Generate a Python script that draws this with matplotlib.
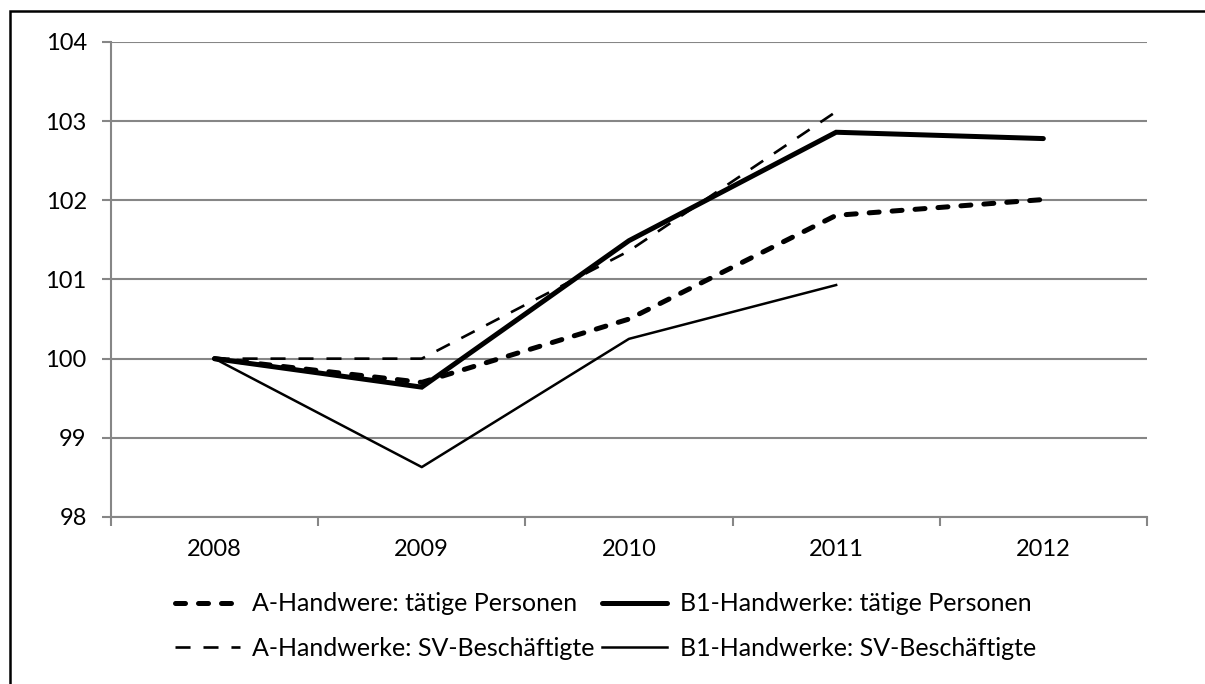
import matplotlib
matplotlib.use("Agg")
import matplotlib.pyplot as plt
from matplotlib.patches import Rectangle

plt.rcParams['font.family'] = ['Lato', 'DejaVu Sans']

years = ['2008', '2009', '2010', '2011', '2012']
a_taetige = [100.0, 99.70, 100.50, 101.81, 102.01]
b1_taetige = [100.0, 99.64, 101.49, 102.86, 102.78]
a_sv = [100.0, 100.0, 101.36, 103.12]
b1_sv = [100.0, 98.63, 100.25, 100.93]
y_ticks = [98, 99, 100, 101, 102, 103, 104]

labels = ['A-Handwere: tätige Personen', 'B1-Handwerke: tätige Personen',
          'A-Handwerke: SV-Beschäftigte', 'B1-Handwerke: SV-Beschäftigte']

fig = plt.figure(figsize=(12.05, 6.84), dpi=100)
ax = fig.add_axes([0.0921, 0.2442, 0.8597, 0.6944])

x_all = list(range(len(years)))
grey = '#868686'
fs = 17
legend_fs = 18

l1, = ax.plot(x_all, a_taetige, color='black', lw=3.6, linestyle=(0, (2.0, 2.6)),
              dash_capstyle='round', solid_capstyle='round', label=labels[0])
l2, = ax.plot(x_all, b1_taetige, color='black', lw=3.6, solid_capstyle='round',
              solid_joinstyle='miter', label=labels[1])
l3, = ax.plot(x_all[:len(a_sv)], a_sv, color='black', lw=1.9, linestyle=(0, (5.7, 4.9)),
              dash_capstyle='butt', label=labels[2])
l4, = ax.plot(x_all[:len(b1_sv)], b1_sv, color='black', lw=1.8, label=labels[3])

ax.set_xlim(-0.5, len(years) - 0.5)
ax.set_ylim(98, 104)
ax.set_yticks(y_ticks)
ax.set_yticklabels([str(v) for v in y_ticks])
ax.set_xticks(x_all)
ax.set_xticklabels(years)
ax.set_xticks([i - 0.5 for i in range(len(years) + 1)], minor=True)
ax.tick_params(axis='x', which='major', length=0, pad=16, labelsize=fs)
ax.tick_params(axis='x', which='minor', length=6.5, width=1.5, color=grey, direction='out')
ax.tick_params(axis='y', length=6.5, width=1.5, color=grey, pad=11, labelsize=fs)

ax.grid(axis='y', color=grey, lw=1.5)
ax.set_axisbelow(True)
for side in ['top', 'right']:
    ax.spines[side].set_visible(False)
for side in ['left', 'bottom']:
    ax.spines[side].set_color(grey)
    ax.spines[side].set_linewidth(1.5)

fig.legend([l1, l3, l2, l4], [labels[0], labels[2], labels[1], labels[3]],
           ncol=2, loc='center', bbox_to_anchor=(0.5025, 0.0848), frameon=False,
           fontsize=legend_fs, handlelength=2.6, handletextpad=0.5, columnspacing=0.3,
           labelspacing=0.85, borderpad=0)

fig.patches.append(Rectangle((10 / 1205, -0.05), 1.2, 1.05 - 11 / 684,
                             transform=fig.transFigure, fill=False,
                             edgecolor='black', lw=1.8, clip_on=False))

fig.savefig('out.png', dpi=100)
